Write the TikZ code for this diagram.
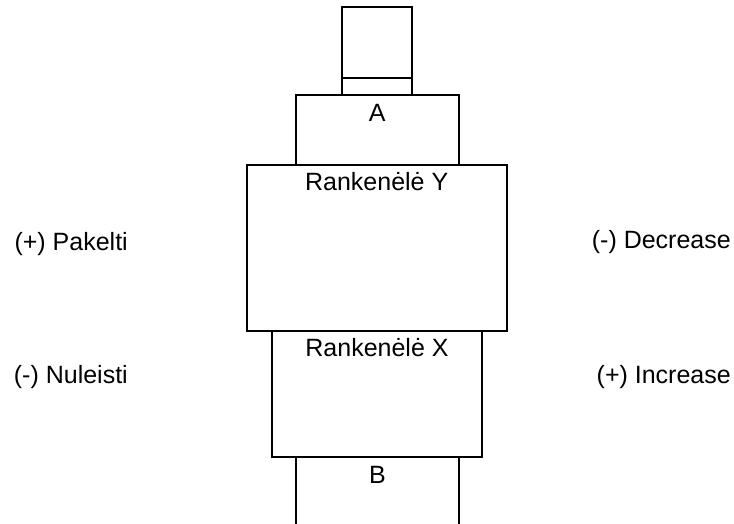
\documentclass[tikz,border=0pt]{standalone}
\usepackage{fontspec}
\setmainfont{Liberation Sans}
\begin{document}
\begin{tikzpicture}[x=1pt,y=-1pt,
  box/.style={draw=black,line width=1.7pt},
  lbl/.style={font=\fontsize{25}{30}\selectfont,inner sep=0pt,anchor=base}]
\useasboundingbox (0,0) rectangle (734,524);
% top small box
\draw[box] (341.7,7.3) rectangle (411.7,94.7);
\draw[box] (341.7,77.7) -- (411.7,77.7);
% A box
\draw[box] (295.7,94.7) rectangle (459,165);
% Y box
\draw[box] (246.7,165) rectangle (507.3,331);
% X box
\draw[box] (271.7,331) rectangle (482.3,457.3);
% B box (open bottom)
\draw[box] (295.7,457.3) -- (295.7,524);
\draw[box] (459.3,457.3) -- (459.3,524);
% labels
\node[lbl] (a) at (377.3,121.7) {A};
\node[lbl] (ry) at (376.7,190.7) {Rankenėlė Y};
\node[lbl] (rx) at (377,356) {Rankenėlė X};
\node[lbl] (b) at (377.5,483.3) {B};
\node[lbl,anchor=base east] (pak) at (128,250) {(+) Pakelti};
\node[lbl,anchor=base east] (nul) at (128,383.3) {(-) Nuleisti};
\node[lbl,anchor=base east] (dec) at (731,248.3) {(-) Decrease};
\node[lbl,anchor=base east] (inc) at (731,383.3) {(+) Increase};
\end{tikzpicture}
\end{document}
